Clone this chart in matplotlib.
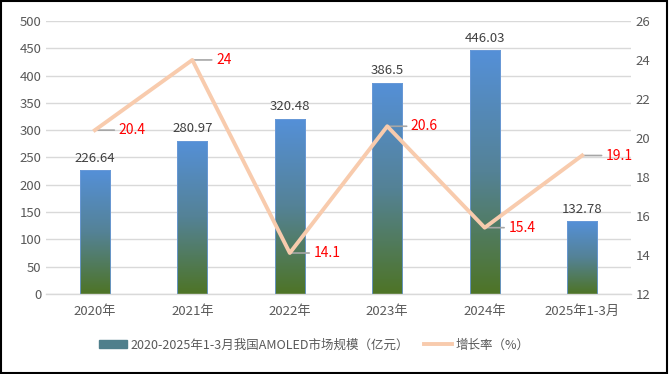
import matplotlib.pyplot as plt
import numpy as np
from matplotlib.colors import LinearSegmentedColormap
from matplotlib.patches import Patch, Rectangle
from matplotlib.lines import Line2D

plt.rcParams['font.family'] = ['Noto Sans CJK SC', 'DejaVu Sans']

# Data
years = ["2020年", "2021年", "2022年", "2023年", "2024年", "2025年1-3月"]
market = [226.64, 280.97, 320.48, 386.5, 446.03, 132.78]
growth = [20.4, 24, 14.1, 20.6, 15.4, 19.1]
bar_label = "2020-2025年1-3月我国AMOLED市场规模（亿元）"
line_label = "增长率（%）"

fig = plt.figure(figsize=(6.69, 3.74), dpi=100)
ax1 = fig.add_axes([0.069, 0.214, 0.874, 0.730])

x = np.arange(len(years))
w = 0.31

# gradient bars: blue at top, green at bottom
cmap = LinearSegmentedColormap.from_list("bg", ["#4E7426", "#548296", "#5590D8"])
grad = np.linspace(0, 1, 256).reshape(-1, 1)
bars = ax1.bar(x, market, width=w, color="none", edgecolor="#6C9BD8", linewidth=0.6, zorder=3)
for b in bars:
    im = ax1.imshow(grad, cmap=cmap, origin="lower", aspect="auto", zorder=2,
                    extent=(b.get_x(), b.get_x() + b.get_width(), 0, b.get_height()))
    im.set_clip_path(b)

for xi, v in zip(x, market):
    ax1.annotate(f"{v:g}", (xi, v), xytext=(0, 4), textcoords="offset points",
                 ha="center", va="bottom", fontsize=9.5, color="#404040")

ax1.set_xlim(-0.5, len(years) - 0.5)
ax1.set_ylim(0, 500)
ax1.set_yticks(range(0, 501, 50))
ax1.set_xticks(x)
ax1.set_xticklabels(years)
ax1.tick_params(axis="both", length=0, labelsize=9.5, colors="#595959")
ax1.tick_params(axis="x", pad=8)
ax1.grid(axis="y", color="#D9D9D9", linewidth=1)
ax1.set_axisbelow(True)
for s in ["top", "left", "right"]:
    ax1.spines[s].set_visible(False)
ax1.spines["bottom"].set_color("#D9D9D9")
ax1.spines["bottom"].set_linewidth(1)

# growth rate line on secondary axis
ax2 = ax1.twinx()
ax2.plot(x, growth, color="#F8CBAD", linewidth=2.8, zorder=4)
ax2.set_ylim(12, 26)
ax2.set_yticks(range(12, 27, 2))
ax2.tick_params(axis="y", length=0, labelsize=9.5, colors="#595959")
for s in ax2.spines.values():
    s.set_visible(False)

for xi, g in zip(x, growth):
    ax2.annotate("", (xi, g), xytext=(14, 0), textcoords="offset points",
                 arrowprops=dict(arrowstyle="-", color="#A6A6A6", lw=1.2, shrinkA=0, shrinkB=0))
    ax2.annotate(f"{g:g}", (xi, g), xytext=(17, 0), textcoords="offset points",
                 ha="left", va="center", fontsize=10, color="#FF0000")

handles = [Patch(facecolor="#4F7F8C", edgecolor="#4F7F8C"),
           Line2D([0], [0], color="#F8CBAD", linewidth=2.8)]
fig.legend(handles, [bar_label, line_label], loc="center", bbox_to_anchor=(0.47, 0.078),
           ncol=2, frameon=False, fontsize=9, labelcolor="#595959",
           handlelength=2.2, handleheight=0.6, columnspacing=1.2, handletextpad=0.3)

fig.patches.append(Rectangle((0.002, 0.003), 0.995, 0.993, transform=fig.transFigure,
                             fill=False, edgecolor="black", linewidth=1.5))

fig.savefig("out.png", dpi=100)
